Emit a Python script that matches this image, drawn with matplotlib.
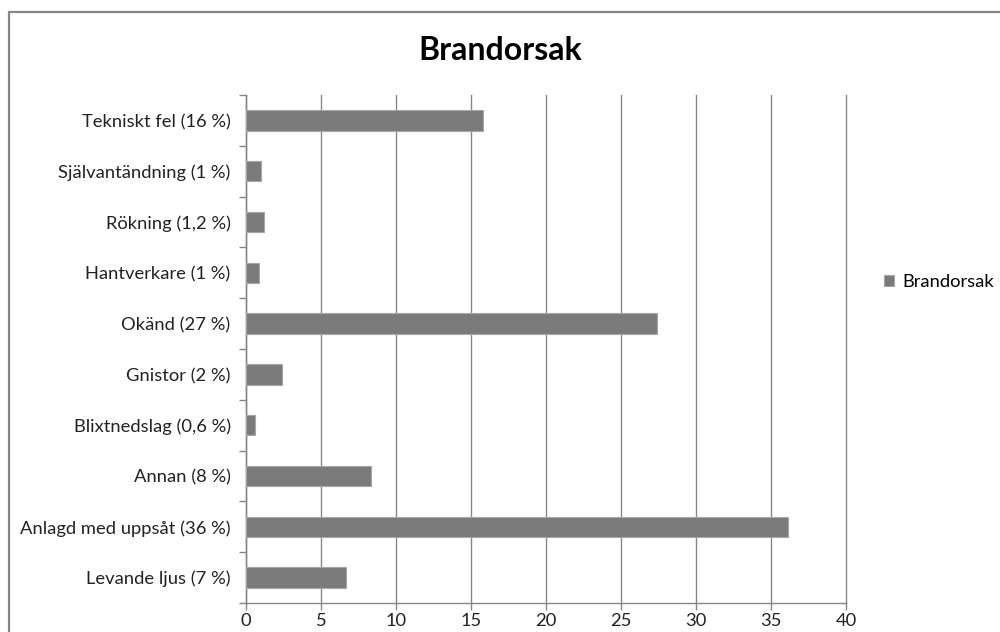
import matplotlib
matplotlib.use('Agg')
import matplotlib.pyplot as plt
from matplotlib.patches import Rectangle

plt.rcParams['font.family'] = ['Lato', 'DejaVu Sans']

# Fire causes, listed top to bottom as drawn
categories = [
    'Tekniskt fel (16 %)',
    'Självantändning (1 %)',
    'Rökning (1,2 %)',
    'Hantverkare (1 %)',
    'Okänd (27 %)',
    'Gnistor (2 %)',
    'Blixtnedslag (0,6 %)',
    'Annan (8 %)',
    'Anlagd med uppsåt (36 %)',
    'Levande ljus (7 %)',
]
values = [15.8, 1.0, 1.2, 0.85, 27.4, 2.4, 0.6, 8.3, 36.1, 6.65]
x_ticks = [0, 5, 10, 15, 20, 25, 30, 35, 40]

W, H = 1000, 632
fig = plt.figure(figsize=(W / 100, H / 100), dpi=100)
fig.patch.set_facecolor('white')

# chart area frame, runs off the right and bottom edges
fig.patches.append(Rectangle((8.5 / W, -0.1), 1.2, 1 - 11.5 / H + 0.1,
                             transform=fig.transFigure, fill=False,
                             edgecolor='#868686', linewidth=1.6))

left, right, top, bottom = 246, 846, 95, 603
ax = fig.add_axes([left / W, 1 - bottom / H, (right - left) / W, (bottom - top) / H])

n = len(categories)
ypos = list(range(n))[::-1]
bars = ax.barh(ypos, values, height=0.4, color='#7a7a7a', edgecolor='#a6a6a6',
               linewidth=0.8, label='Brandorsak', zorder=3)

fs = 13.2
ax.set_xlim(0, 40)
ax.set_ylim(-0.5, n - 0.5)
ax.set_xticks(x_ticks)
ax.set_xticklabels([str(t) for t in x_ticks], fontsize=fs, color='#222222')
ax.set_yticks(ypos)
ax.set_yticklabels(categories, fontsize=fs, color='#222222')
ax.tick_params(axis='y', length=0, pad=11)
ax.set_yticks([i - 0.5 for i in range(n + 1)], minor=True)
ax.tick_params(axis='y', which='minor', length=5, color='#868686', width=1)
ax.tick_params(axis='x', length=5, color='#868686', width=1, pad=2)

ax.grid(axis='x', color='#868686', linewidth=1, zorder=0)
for line in ax.get_xgridlines():
    line.set_clip_on(False)
for side in ['top', 'right']:
    ax.spines[side].set_visible(False)
for side in ['left', 'bottom']:
    ax.spines[side].set_color('#868686')
    ax.spines[side].set_linewidth(1)

fig.text(0.5, 1 - 50 / H, 'Brandorsak', ha='center', va='center',
         fontsize=23, fontweight='bold', color='black')

fig.legend(handles=[bars], labels=['Brandorsak'], loc='center left',
           bbox_to_anchor=(884 / W, 1 - 282 / H), frameon=False,
           borderpad=0, borderaxespad=0,
           fontsize=fs, handlelength=0.55, handleheight=0.55, handletextpad=0.45)

fig.savefig('out.png', dpi=100, facecolor='white')
